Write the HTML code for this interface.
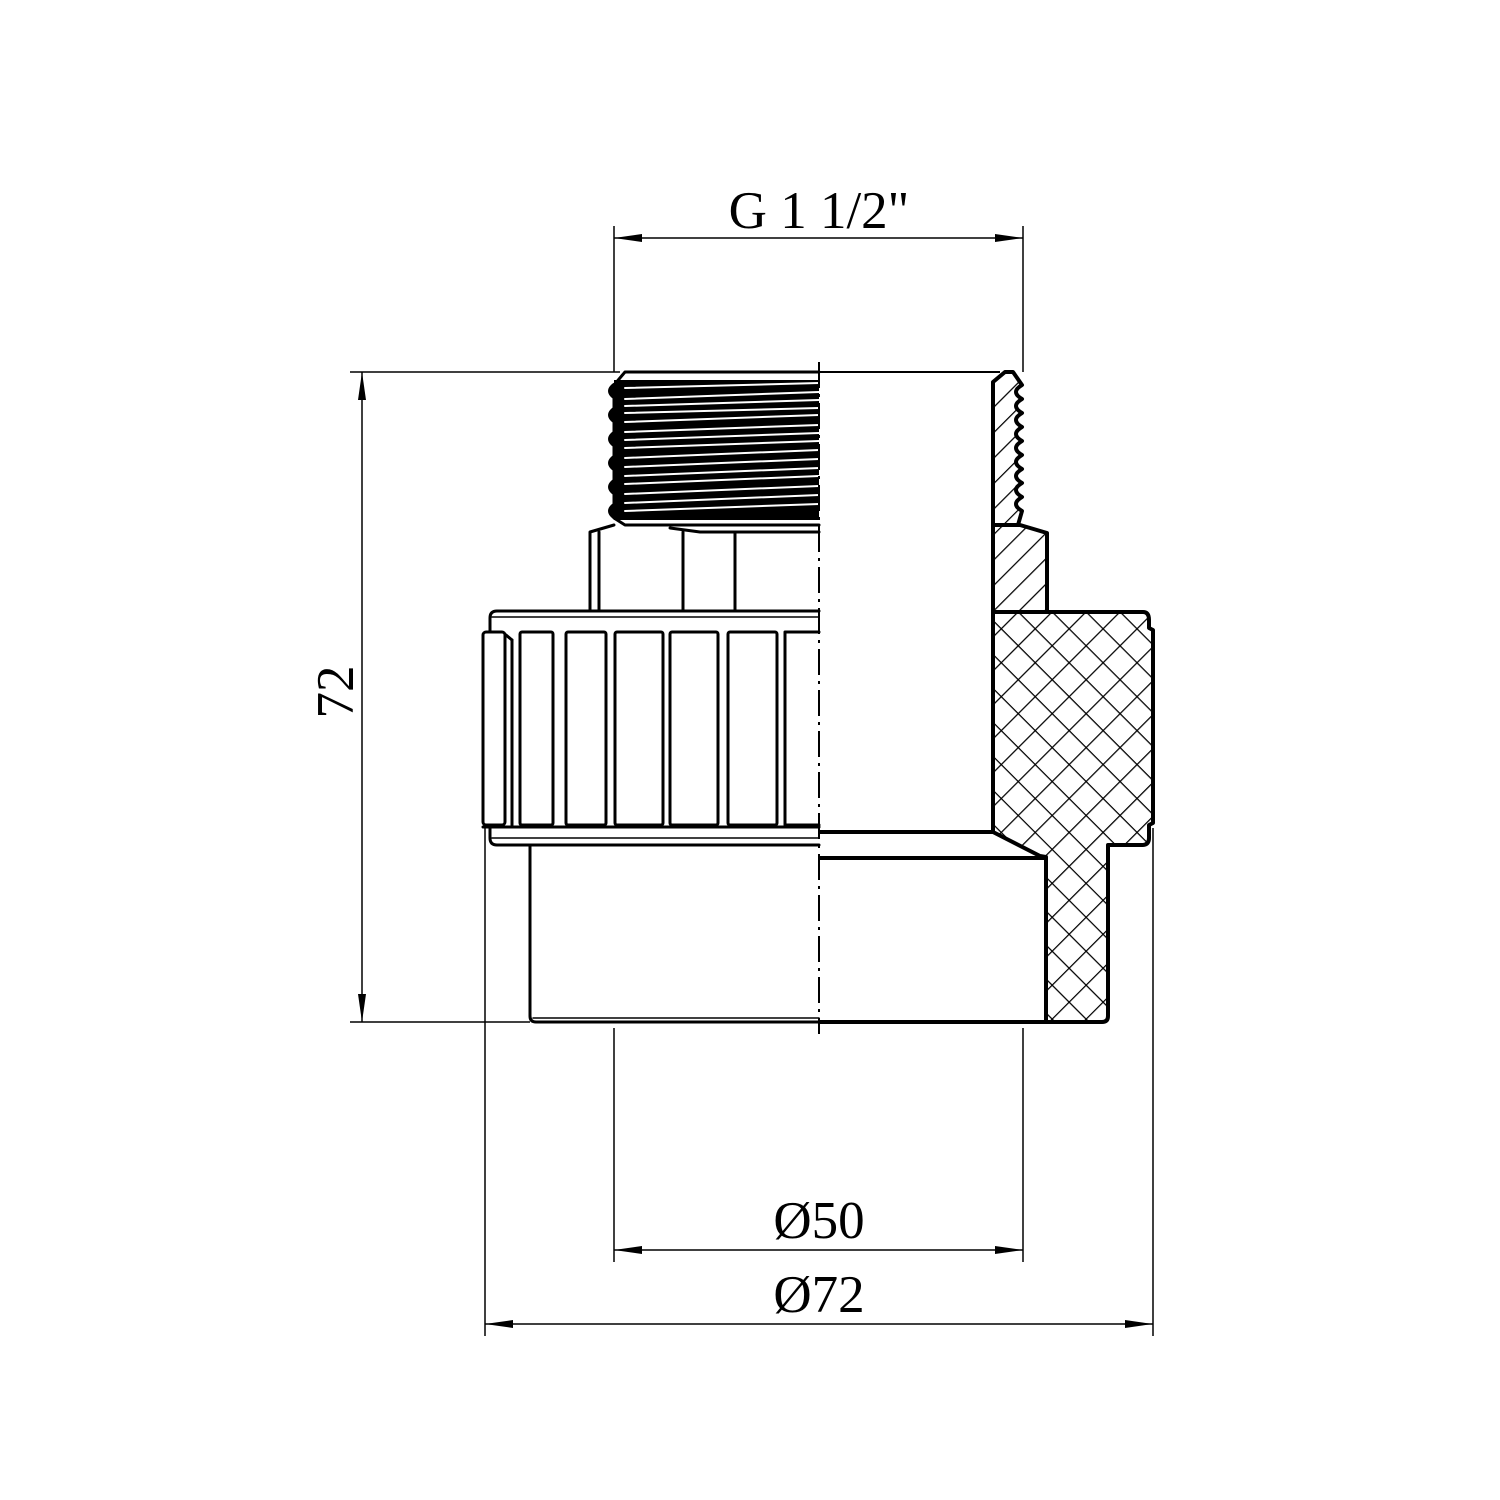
<!DOCTYPE html>
<html><head><meta charset="utf-8"><style>
html,body{margin:0;padding:0;background:#fff;}
svg{display:block;}
text{font-family:"Liberation Serif",serif;fill:#000;}
</style></head><body>
<svg width="1500" height="1500" viewBox="0 0 1500 1500" xmlns="http://www.w3.org/2000/svg">
<defs>
<pattern id="diag" patternUnits="userSpaceOnUse" width="18" height="18" patternTransform="rotate(45)">
<line x1="0" y1="0" x2="0" y2="18" stroke="#000" stroke-width="2.5"/>
</pattern>
<pattern id="cross" patternUnits="userSpaceOnUse" width="24" height="24" patternTransform="rotate(45)">
<line x1="0" y1="0" x2="0" y2="24" stroke="#000" stroke-width="2.5"/>
<line x1="0" y1="0" x2="24" y2="0" stroke="#000" stroke-width="2.5"/>
</pattern>
<marker id="arr" viewBox="0 0 28 8" refX="28" refY="4" markerWidth="28" markerHeight="8" markerUnits="userSpaceOnUse" orient="auto-start-reverse">
<path d="M28,4 L0,0 L0,8 Z" fill="#000"/>
</marker>
</defs>

<g stroke="#000" stroke-width="1.5" fill="none">
<line x1="614" y1="226" x2="614" y2="372"/>
<line x1="1023" y1="226" x2="1023" y2="372"/>
<line x1="614" y1="238" x2="1023" y2="238" marker-start="url(#arr)" marker-end="url(#arr)"/>
<line x1="350" y1="372" x2="620" y2="372"/>
<line x1="350" y1="1022" x2="530" y2="1022"/>
<line x1="362" y1="372" x2="362" y2="1022" marker-start="url(#arr)" marker-end="url(#arr)"/>
<line x1="614" y1="1028" x2="614" y2="1262"/>
<line x1="1023" y1="1028" x2="1023" y2="1262"/>
<line x1="614" y1="1250" x2="1023" y2="1250" marker-start="url(#arr)" marker-end="url(#arr)"/>
<line x1="485" y1="828" x2="485" y2="1336"/>
<line x1="1153" y1="828" x2="1153" y2="1336"/>
<line x1="485" y1="1324" x2="1153" y2="1324" marker-start="url(#arr)" marker-end="url(#arr)"/>
</g>
<text x="819" y="228" font-size="53" text-anchor="middle">G 1 1/2"</text>
<text x="819" y="1238" font-size="53" text-anchor="middle">Ø50</text>
<text x="819" y="1312" font-size="53" text-anchor="middle">Ø72</text>
<text transform="translate(353,692) rotate(-90)" font-size="53" text-anchor="middle">72</text>

<g stroke="#000" fill="none" stroke-linecap="round" stroke-linejoin="round">
<path d="M819,372 L625,372 L614,385 L614,518 L625,525 L819,525" stroke-width="3"/>
<rect x="614" y="380" width="205" height="140" fill="#000" stroke="none"/>
<g stroke="#fff" stroke-width="2">
<line x1="625" y1="388" x2="819" y2="383"/>
<line x1="625" y1="399" x2="819" y2="392"/>
<line x1="625" y1="406" x2="819" y2="400"/>
<line x1="625" y1="413" x2="819" y2="408"/>
<line x1="625" y1="422" x2="819" y2="415"/>
<line x1="625" y1="432" x2="819" y2="425"/>
<line x1="625" y1="440" x2="819" y2="433"/>
<line x1="625" y1="448" x2="819" y2="441"/>
<line x1="625" y1="458" x2="819" y2="450"/>
<line x1="625" y1="467" x2="819" y2="459"/>
<line x1="625" y1="476" x2="819" y2="468"/>
<line x1="625" y1="484" x2="819" y2="476"/>
<line x1="625" y1="494" x2="819" y2="486"/>
<line x1="625" y1="503" x2="819" y2="495"/>
<line x1="625" y1="511" x2="819" y2="504"/>
</g>
<path d="M614,385 q-8,6 0,12 q8,6 0,12 q-8,6 0,12 q8,6 0,12 q-8,6 0,12 q8,6 0,12 q-8,6 0,12 q8,6 0,12 q-8,6 0,12 q8,6 0,12 q-8,6 0,12" stroke-width="4" fill="#000"/>
<path d="M590,610 L590,532 L614,525 M819,532 L700,532 L670,528" stroke-width="3"/>
<line x1="599" y1="532" x2="599" y2="610" stroke-width="3"/>
<line x1="683" y1="532" x2="683" y2="610" stroke-width="3"/>
<line x1="735" y1="532" x2="735" y2="610" stroke-width="3"/>
<path d="M819,611 L497,611 Q490,611 490,618 L490,632" stroke-width="3"/>
<line x1="492" y1="617" x2="819" y2="617" stroke-width="1.5"/>
<rect x="483" y="632" width="22" height="193" rx="3" stroke-width="3"/>
<line x1="506" y1="635" x2="512" y2="640" stroke-width="3"/>
<line x1="512" y1="640" x2="512" y2="825" stroke-width="3"/>
<rect x="520" y="632" width="33" height="193" rx="2" stroke-width="3"/>
<rect x="566" y="632" width="40" height="193" rx="2" stroke-width="3"/>
<rect x="615" y="632" width="48" height="193" rx="2" stroke-width="3"/>
<rect x="670" y="632" width="48" height="193" rx="2" stroke-width="3"/>
<rect x="728" y="632" width="49" height="193" rx="2" stroke-width="3"/>
<path d="M819,632 L785,632 L785,825 L819,825" stroke-width="3"/>
<line x1="483" y1="827" x2="819" y2="827" stroke-width="3"/>
<path d="M490,827 L490,838 Q490,845 497,845 L819,845" stroke-width="3"/>
<line x1="492" y1="838" x2="819" y2="838" stroke-width="1.5"/>
<path d="M530,845 L530,1016 Q530,1022 536,1022 L819,1022" stroke-width="3"/>
<line x1="533" y1="1018" x2="819" y2="1018" stroke-width="1.5"/>
</g>

<line x1="819" y1="362" x2="819" y2="1034" stroke="#000" stroke-width="2" stroke-dasharray="26,6,3,6"/>

<g stroke="#000" stroke-linejoin="round">
<line x1="819" y1="372" x2="1000" y2="372" stroke-width="2" fill="none"/>
<path d="M993,382 L1005,372 L1013,372 L1022,385 q-12,7 0,14 q-12,7 0,14 q-12,7 0,14 q-12,7 0,14 q-12,7 0,14 q-12,7 0,14 q-12,7 0,14 q-12,7 0,14 q-12,7 0,14 L1018,525 L993,525 Z" fill="url(#diag)" stroke-width="4"/>
<path d="M993,525 L1020,525 L1047,533 L1047,612 L993,612 Z" fill="url(#diag)" stroke-width="4"/>
<path d="M993,612 L1143,612 Q1149,612 1149,620 L1149,628 L1153,630 L1153,823 L1149,825 L1149,838 Q1149,845 1142,845 L1108,845 L1108,1016 Q1108,1022 1102,1022 L1046,1022 L1046,857 L1040,856 L993,832 Z" fill="url(#cross)" stroke-width="4"/>
<line x1="819" y1="832" x2="993" y2="832" stroke-width="4"/>
<line x1="819" y1="858" x2="1046" y2="858" stroke-width="4"/>
<line x1="819" y1="1022" x2="1046" y2="1022" stroke-width="4"/>
</g>
</svg>
</body></html>
